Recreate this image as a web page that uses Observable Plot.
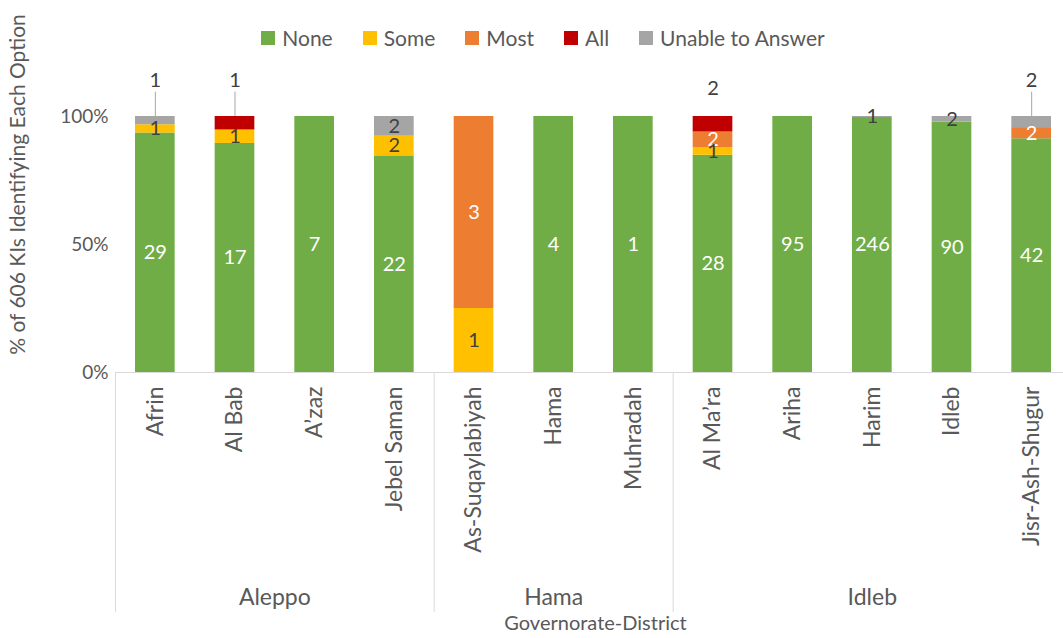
<!DOCTYPE html>
<html><head><meta charset="utf-8">
<script src="https://cdn.jsdelivr.net/npm/d3@7"></script>
<script src="https://cdn.jsdelivr.net/npm/@observablehq/plot@0.6"></script>
<style>
body{margin:0;background:#fff;font-family:Lato,sans-serif;}
#wrap{position:relative;width:1063px;height:638px;overflow:hidden;}
#legend{position:absolute;top:25px;left:0;width:1086px;display:flex;justify-content:center;gap:30px;font-size:21px;color:#595959;z-index:2;}
#legend .it{display:flex;align-items:center;gap:7px;}
#legend .sw{width:14px;height:14px;display:inline-block;}
</style></head>
<body><div id="wrap"><div id="legend"></div><div id="chart"></div></div>
<script>
const districts = ["Afrin","Al Bab","A’zaz","Jebel Saman","As-Suqaylabiyah","Hama","Muhradah","Al Ma’ra","Ariha","Harim","Idleb","Jisr-Ash-Shugur"];
const governorateOf = ["Aleppo","Aleppo","Aleppo","Aleppo","Hama","Hama","Hama","Idleb","Idleb","Idleb","Idleb","Idleb"];
const governorates = ["Aleppo","Hama","Idleb"];
const answers = ["None","Some","Most","All","Unable to Answer"];
const none   = [29,17,7,22,0,4,1,28,95,246,90,42];
const some   = [1,1,0,2,1,0,0,1,0,0,0,0];
const most   = [0,0,0,0,3,0,0,2,0,0,0,2];
const all    = [0,1,0,0,0,0,0,2,0,0,0,0];
const unable = [1,0,0,2,0,0,0,0,0,1,2,2];
const colors = ["#70AD47","#FFC000","#ED7D31","#C00000","#A5A5A5"];
const whiteLabelAnswers = ["None","Most"];
const outsideLabels = [["Afrin","Unable to Answer"],["Al Bab","All"],["Al Ma’ra","All"],["Jisr-Ash-Shugur","Unable to Answer"]];
const leaderless = ["Al Ma’ra"];
const yTitle = "% of 606 KIs Identifying Each Option";
const xTitle = "Governorate-District";

// legend
const lg = document.getElementById("legend");
answers.forEach((a,k)=>{
  const it=document.createElement("span");it.className="it";
  it.innerHTML=`<span class="sw" style="background:${colors[k]}"></span><span>${a}</span>`;
  lg.appendChild(it);
});

const series=[none,some,most,all,unable];
const segs=[];
districts.forEach((d,i)=>{
  const total=d3.sum(series,s=>s[i]);
  let acc=0;
  series.forEach((s,k)=>{
    const v=s[i]; if(!v) return;
    const y1=acc/total*100; acc+=v; const y2=acc/total*100;
    const out=outsideLabels.some(([dd,aa])=>dd===d&&aa===answers[k]);
    segs.push({district:d,i,answer:answers[k],count:v,y1,y2,mid:(y1+y2)/2,out,leader:out&&!leaderless.includes(d)});
  });
});
const inside=segs.filter(s=>!s.out);
const outside=segs.filter(s=>s.out);
const groups=governorates.map(g=>{
  const idx=governorateOf.map((x,i)=>x===g?i:-1).filter(i=>i>=0);
  return {name:g,start:d3.min(idx),end:d3.max(idx)+1,mid:(d3.min(idx)+d3.max(idx)+1)/2};
});
const seps=[...new Set(groups.flatMap(g=>[g.start,g.end]))];

const chart=Plot.plot({
  width:1063,height:638,
  marginLeft:115,marginRight:0,marginTop:116,marginBottom:266,
  x:{domain:[0,districts.length],range:[115,1071],axis:null},
  y:{domain:[0,100],ticks:2,tickFormat:d=>d+"%",tickSize:0,tickPadding:7,label:null},
  color:{domain:answers,range:colors},
  style:{fontFamily:"Lato, sans-serif",fontSize:"19px",color:"#595959",background:"#fff"},
  marks:[
    Plot.ruleX(seps,{stroke:"#d9d9d9",insetTop:256,insetBottom:-240}),
    Plot.ruleY([0],{stroke:"#d9d9d9"}),
    Plot.rect(segs,{x1:d=>d.i,x2:d=>d.i+1,y1:"y1",y2:"y2",fill:"answer",insetLeft:20,insetRight:20}),
    Plot.text(inside.filter(s=>whiteLabelAnswers.includes(s.answer)),{x:d=>d.i+0.5,y:"mid",text:"count",fill:"white",fontSize:20}),
    Plot.text(inside.filter(s=>!whiteLabelAnswers.includes(s.answer)),{x:d=>d.i+0.5,y:"mid",text:"count",fill:"#404040",fontSize:20}),
    Plot.ruleX(outside.filter(s=>s.leader),{x:d=>d.i+0.5,y1:100,y2:109.5,stroke:"#a6a6a6"}),
    Plot.text(outside.filter(s=>s.leader),{x:d=>d.i+0.5,y:100,dy:-36,text:"count",fill:"#404040",fontSize:20}),
    Plot.text(outside.filter(s=>!s.leader),{x:d=>d.i+0.5,y:100,dy:-28,text:"count",fill:"#404040",fontSize:20}),
    Plot.text(districts,{x:(d,i)=>i+0.5,y:0,dy:14,rotate:-90,textAnchor:"end",lineAnchor:"middle",fill:"#595959",fontSize:23}),
    Plot.text(groups,{x:"mid",y:0,dy:225,text:"name",fill:"#595959",fontSize:23}),
    Plot.text([xTitle],{frameAnchor:"bottom",dx:6,dy:257,fill:"#595959",fontSize:20}),
    Plot.text([yTitle],{frameAnchor:"left",textAnchor:"middle",rotate:-90,dx:-97,dy:-60,fill:"#595959",fontSize:21})
  ]
});
document.getElementById("chart").appendChild(chart);
</script></body></html>
